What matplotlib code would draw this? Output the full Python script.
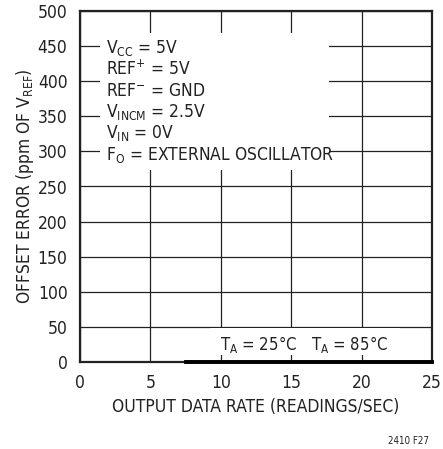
import matplotlib.pyplot as plt
from matplotlib.patches import Rectangle

plt.rcParams['font.family'] = ['DejaVu Sans']
plt.rcParams['font.stretch'] = 'condensed'
plt.rcParams['mathtext.fontset'] = 'custom'
plt.rcParams['mathtext.rm'] = 'DejaVu Sans:stretch=condensed'
plt.rcParams['mathtext.default'] = 'rm'

# data (offset error stays at ~0 ppm)
rate_25 = [7.5, 10, 15, 20, 25]
err_25 = [0, 0, 0, 0, 0]
rate_85 = [7.5, 10, 15, 20, 25]
err_85 = [0, 0, 0, 0, 0]

x_ticks = [0, 5, 10, 15, 20, 25]
y_ticks = [0, 50, 100, 150, 200, 250, 300, 350, 400, 450, 500]

conditions = [r'V$_{CC}$ = 5V',
              r'REF$^{+}$ = 5V',
              r'REF$^{-}$ = GND',
              r'V$_{INCM}$ = 2.5V',
              r'V$_{IN}$ = 0V',
              r'F$_{O}$ = EXTERNAL OSCILLATOR']

fig = plt.figure(figsize=(4.43, 4.49), dpi=100)
ax = fig.add_axes([80/443, 1-362/449, 352/443, 351/449])

ax.plot(rate_25, err_25, color='black', lw=2.6, zorder=5, clip_on=False)
ax.plot(rate_85, err_85, color='black', lw=2.6, zorder=5, clip_on=False)

ax.set_xlim(0, 25)
ax.set_ylim(0, 500)
ax.set_xticks(x_ticks)
ax.set_yticks(y_ticks)
ax.tick_params(length=0, labelsize=12.5, colors='#222222')
ax.tick_params(axis='y', pad=9)
ax.tick_params(axis='x', pad=9)
ax.grid(True, color='#222222', lw=0.9)
ax.set_axisbelow(True)
for s in ax.spines.values():
    s.set_linewidth(1.6)
    s.set_color('#222222')

ax.set_xlabel('OUTPUT DATA RATE (READINGS/SEC)', fontsize=12.5, color='#222222', labelpad=4)
ax.set_ylabel(r'OFFSET ERROR (ppm OF V$_{REF}$)', fontsize=12.5, color='#222222', labelpad=1.5)

# white boxes behind the annotations
ax.add_patch(Rectangle((0.057, 0.547), 0.65, 0.39, transform=ax.transAxes,
                       facecolor='white', edgecolor='none', zorder=2))
ax.add_patch(Rectangle((9.2, 10), 13.5, 38, facecolor='white',
                       edgecolor='none', zorder=2))

y0 = 0.88
for i, line in enumerate(conditions):
    ax.text(0.074, y0 - i*0.0607, line, transform=ax.transAxes, fontsize=12.5,
            va='baseline', ha='left', color='#222222', zorder=3)

ax.text(0.398, 0.034, r'T$_{A}$ = 25°C', transform=ax.transAxes, fontsize=12,
        va='baseline', color='#222222', zorder=3)
ax.text(0.656, 0.034, r'T$_{A}$ = 85°C', transform=ax.transAxes, fontsize=12,
        va='baseline', color='#222222', zorder=3)

fig.text(429/443, 1-441/449, '2410 F27', fontsize=7, ha='right', va='center',
         color='#222222')

fig.savefig('out.png', dpi=100)
